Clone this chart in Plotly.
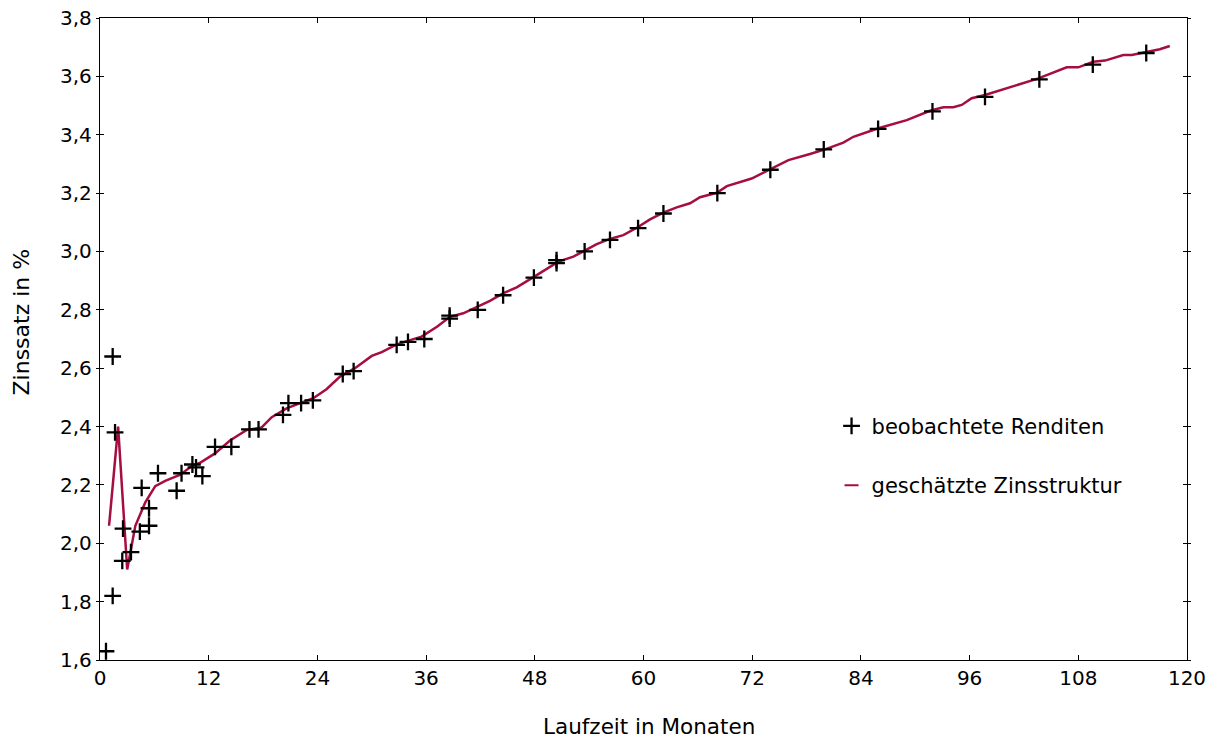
import plotly.graph_objects as go

# observed yields (months, %)
obs_x = [0.66, 1.40, 1.40, 1.66, 2.46, 2.54, 3.42, 4.4, 4.6, 5.41, 5.41, 6.4, 8.46, 9.0,
         10.2, 10.6, 11.3, 12.7, 14.5, 16.5, 17.5, 20.2, 20.8, 22.2, 23.5, 26.8, 28.0,
         32.75, 34.0, 35.8, 38.6, 38.6, 41.7, 44.5, 47.9, 50.4, 50.4, 53.5, 56.3, 59.4,
         62.2, 68.15, 74.0, 79.9, 85.9, 91.9, 97.7, 103.7, 109.6, 115.5]
obs_y = [1.63, 2.64, 1.82, 2.38, 1.94, 2.05, 1.97, 2.04, 2.19, 2.12, 2.06, 2.24, 2.18, 2.24,
         2.27, 2.26, 2.23, 2.33, 2.33, 2.39, 2.39, 2.44, 2.48, 2.48, 2.49, 2.58, 2.59,
         2.68, 2.69, 2.70, 2.78, 2.77, 2.80, 2.85, 2.91, 2.97, 2.96, 3.00, 3.04, 3.08,
         3.13, 3.20, 3.28, 3.35, 3.42, 3.48, 3.53, 3.59, 3.64, 3.68]

# estimated term structure
curve_x = [1.0, 2.0, 3.0, 3.9, 5.0, 6.1, 7.2, 8.8, 10.3, 11.0, 12.7, 14.35, 16.2, 17.85,
           18.96, 20.6, 22.1, 23.55, 25.0, 26.5, 28.15, 30.0, 31.1, 32.6, 33.7, 35.5, 37.2,
           38.64, 40.1, 41.95, 43.05, 44.53, 46.0, 47.9, 49.3, 50.6, 52.26, 53.54, 54.84,
           56.3, 57.77, 59.36, 60.72, 62.19, 63.67, 65.14, 66.24, 68.1, 69.2, 71.94, 74.15,
           76.0, 78.38, 80.04, 82.06, 83.17, 85.93, 89.06, 91.63, 93.1, 94.2, 95.13, 96.23,
           97.7, 103.6, 106.72, 108.0, 109.66, 110.95, 112.97, 113.9, 115.55, 117.0, 118.1]
curve_y = [2.06, 2.40, 1.91, 2.06, 2.14, 2.196, 2.214, 2.234, 2.268, 2.275, 2.308, 2.352,
           2.388, 2.397, 2.432, 2.462, 2.48, 2.497, 2.528, 2.571, 2.60, 2.642, 2.655, 2.679,
           2.691, 2.708, 2.742, 2.776, 2.788, 2.816, 2.831, 2.857, 2.877, 2.913, 2.939,
           2.965, 2.982, 3.003, 3.025, 3.043, 3.056, 3.083, 3.11, 3.133, 3.151, 3.165,
           3.186, 3.201, 3.224, 3.25, 3.285, 3.313, 3.334, 3.35, 3.373, 3.393, 3.422, 3.45,
           3.482, 3.494, 3.494, 3.502, 3.525, 3.536, 3.593, 3.631, 3.631, 3.65, 3.654,
           3.673, 3.673, 3.685, 3.693, 3.704]

x_ticks = [0, 12, 24, 36, 48, 60, 72, 84, 96, 108, 120]
y_ticks = [1.6, 1.8, 2.0, 2.2, 2.4, 2.6, 2.8, 3.0, 3.2, 3.4, 3.6, 3.8]

x_title = "Laufzeit in Monaten"
y_title = "Zinssatz in %"

RED = "#A50E3F"
FONT = "DejaVu Sans"
FS = 20

fig = go.Figure()
fig.add_trace(go.Scatter(x=curve_x, y=curve_y, mode="lines",
                         line=dict(color=RED, width=2.5), showlegend=False,
                         hoverinfo="skip"))
fig.add_trace(go.Scatter(x=obs_x, y=obs_y, mode="markers", name="beobachtete Renditen",
                         marker=dict(symbol="cross-thin", size=12, color="black",
                                     line=dict(color="black", width=2.3)),
                         legendgroup="a"))
fig.add_trace(go.Scatter(x=[None], y=[None], mode="markers", name="geschätzte Zinsstruktur",
                         marker=dict(symbol="line-ew", size=10, color=RED,
                                     line=dict(color=RED, width=2)),
                         legendgroup="b"))
# helper trace for overlay axes (crossing ticks)
fig.add_trace(go.Scatter(x=[None], y=[None], xaxis="x2", yaxis="y2", showlegend=False,
                         hoverinfo="skip"))

common = dict(showgrid=False, zeroline=False, tickcolor="black", tickwidth=1,
              automargin=False)
fig.update_layout(
    template="none",
    width=1218, height=740,
    margin=dict(l=100, r=31, t=18, b=80, pad=0),
    paper_bgcolor="white", plot_bgcolor="white",
    separators=",.",
    font=dict(family=FONT, size=FS, color="black"),
    xaxis=dict(range=[0, 120], tickvals=x_ticks, ticks="inside", ticklen=5,
               showline=True, linecolor="black", linewidth=1.3, mirror="ticks",
               tickfont=dict(size=FS), **common),
    yaxis=dict(range=[1.6, 3.8], tickvals=y_ticks, tickformat=".1f", ticks="outside",
               ticklen=3, showline=True, linecolor="black", linewidth=1.3, mirror="ticks",
               tickfont=dict(size=FS), **common),
    xaxis2=dict(overlaying="x", anchor="y2", range=[0, 120], tickvals=x_ticks,
                ticks="inside", ticklen=5, mirror="ticks", showticklabels=False,
                showline=False, **common),
    yaxis2=dict(overlaying="y", anchor="x2", range=[1.6, 3.8], tickvals=y_ticks,
                ticks="inside", ticklen=4, mirror="ticks", showticklabels=False,
                showline=False, **common),
    legend=dict(x=0.673, y=0.396, xanchor="left", yanchor="top", bgcolor="rgba(0,0,0,0)",
                traceorder="grouped", tracegroupgap=29, font=dict(size=21)),
    annotations=[
        dict(text=x_title, xref="paper", yref="paper", x=0.5046, y=0, yshift=-66,
             xanchor="center", yanchor="middle", showarrow=False, font=dict(size=21.5)),
        dict(text=y_title, xref="paper", yref="paper", x=0, y=0.5257, xshift=-78,
             xanchor="center", yanchor="middle", textangle=-90, showarrow=False,
             font=dict(size=22)),
    ],
)

fig.write_html("out.html", config={"displayModeBar": False},
               post_script="document.body.style.margin='0';document.body.style.padding='0';")
